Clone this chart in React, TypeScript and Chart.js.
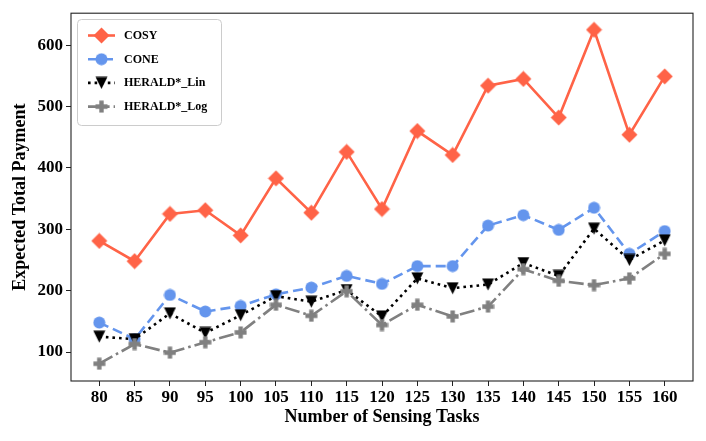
import React, { useEffect, useRef } from "react";
import { Chart, registerables } from "chart.js";

Chart.register(...registerables);

const tasks = [80, 85, 90, 95, 100, 105, 110, 115, 120, 125, 130, 135, 140, 145, 150, 155, 160];
const cosy = [281, 248, 325, 331, 290, 383, 327, 426, 333, 460, 421, 534, 545, 482, 625, 454, 549];
const cone = [148, 121, 193, 166, 175, 194, 205, 224, 211, 240, 240, 306, 323, 299, 335, 260, 297];
const heraldLin = [125, 121, 163, 131, 160, 191, 182, 201, 158, 220, 204, 210, 245, 224, 301, 250, 282];
const heraldLog = [81, 113, 99, 116, 132, 177, 159, 199, 144, 177, 158, 174, 235, 216, 209, 220, 260];
const seriesNames = ["COSY", "CONE", "HERALD*_Lin", "HERALD*_Log"];
const xTicks = [80, 85, 90, 95, 100, 105, 110, 115, 120, 125, 130, 135, 140, 145, 150, 155, 160];
const yTicks = [100, 200, 300, 400, 500, 600];

const FONT = "'Liberation Serif', 'Times New Roman', serif";
const LW = 2.6;

function makeMarker(shape: string, color: string): HTMLCanvasElement {
  const c = document.createElement("canvas");
  const s = shape === "diamond" ? 17 : 13;
  c.width = s;
  c.height = s;
  const ctx = c.getContext("2d")!;
  ctx.fillStyle = color;
  ctx.beginPath();
  const m = s / 2;
  if (shape === "diamond") {
    ctx.moveTo(m, 0.5);
    ctx.lineTo(s - 0.5, m);
    ctx.lineTo(m, s - 0.5);
    ctx.lineTo(0.5, m);
    ctx.closePath();
  } else if (shape === "circle") {
    ctx.arc(m, m, 6, 0, Math.PI * 2);
  } else if (shape === "triDown") {
    ctx.moveTo(0.5, 0.5);
    ctx.lineTo(s - 0.5, 0.5);
    ctx.lineTo(m, s - 0.5);
    ctx.closePath();
  } else if (shape === "plus") {
    const a = 2.2;
    ctx.moveTo(m - a, 0.5);
    ctx.lineTo(m + a, 0.5);
    ctx.lineTo(m + a, m - a);
    ctx.lineTo(s - 0.5, m - a);
    ctx.lineTo(s - 0.5, m + a);
    ctx.lineTo(m + a, m + a);
    ctx.lineTo(m + a, s - 0.5);
    ctx.lineTo(m - a, s - 0.5);
    ctx.lineTo(m - a, m + a);
    ctx.lineTo(0.5, m + a);
    ctx.lineTo(0.5, m - a);
    ctx.lineTo(m - a, m - a);
    ctx.closePath();
  }
  ctx.fill();
  return c;
}

export default function App() {
  const ref = useRef<HTMLCanvasElement>(null);

  useEffect(() => {
    const styles = [
      { color: "#FF6347", dash: [] as number[], marker: makeMarker("diamond", "#FF6347") },
      { color: "#6495ED", dash: [10, 5], marker: makeMarker("circle", "#6495ED") },
      { color: "#000000", dash: [2.6, 4], marker: makeMarker("triDown", "#000000") },
      { color: "#808080", dash: [15, 4, 2.6, 4], marker: makeMarker("plus", "#808080") },
    ];
    const values = [cosy, cone, heraldLin, heraldLog];

    const framePlugin = {
      id: "frame",
      afterDatasetsDraw(chart: any) {
        const { ctx, chartArea } = chart;
        ctx.save();
        ctx.strokeStyle = "#222";
        ctx.lineWidth = 1.1;
        ctx.strokeRect(chartArea.left, chartArea.top, chartArea.right - chartArea.left, chartArea.bottom - chartArea.top);
        ctx.restore();
      },
    };

    const legendPlugin = {
      id: "mplLegend",
      afterDraw(chart: any) {
        const ctx = chart.ctx as CanvasRenderingContext2D;
        ctx.save();
        const x0 = 77.5, y0 = 19.5, w = 144, h = 106, r = 4;
        ctx.beginPath();
        ctx.moveTo(x0 + r, y0);
        ctx.lineTo(x0 + w - r, y0);
        ctx.arcTo(x0 + w, y0, x0 + w, y0 + r, r);
        ctx.lineTo(x0 + w, y0 + h - r);
        ctx.arcTo(x0 + w, y0 + h, x0 + w - r, y0 + h, r);
        ctx.lineTo(x0 + r, y0 + h);
        ctx.arcTo(x0, y0 + h, x0, y0 + h - r, r);
        ctx.lineTo(x0, y0 + r);
        ctx.arcTo(x0, y0, x0 + r, y0, r);
        ctx.closePath();
        ctx.fillStyle = "rgba(255,255,255,0.85)";
        ctx.fill();
        ctx.strokeStyle = "#cccccc";
        ctx.lineWidth = 1;
        ctx.stroke();
        styles.forEach((st, i) => {
          const y = 35.5 + i * 23.7;
          ctx.beginPath();
          ctx.setLineDash(st.dash);
          ctx.strokeStyle = st.color;
          ctx.lineWidth = LW;
          ctx.moveTo(88, y);
          ctx.lineTo(115, y);
          ctx.stroke();
          ctx.setLineDash([]);
          const mk = st.marker;
          ctx.drawImage(mk, 101.5 - mk.width / 2, y - mk.height / 2);
          ctx.fillStyle = "#000";
          ctx.font = `bold 12px ${FONT}`;
          ctx.textBaseline = "middle";
          ctx.textAlign = "left";
          ctx.fillText(seriesNames[i], 124, y + 0.5);
        });
        ctx.restore();
      },
    };

    const datasets = values.map((vals, i) => ({
      label: seriesNames[i],
      data: tasks.map((t, j) => ({ x: t, y: vals[j] })),
      borderColor: styles[i].color,
      backgroundColor: styles[i].color,
      borderWidth: LW,
      borderDash: styles[i].dash,
      pointStyle: styles[i].marker,
      pointRadius: 6,
      pointHoverRadius: 6,
      tension: 0,
      fill: false,
      order: 3 - i,
    }));

    const tickFont = { family: FONT, size: 17, weight: "bold" as const };
    const titleFont = { family: FONT, size: 18, weight: "bold" as const };

    const chart = new Chart(ref.current!, {
      type: "line",
      data: { datasets },
      plugins: [framePlugin, legendPlugin],
      options: {
        responsive: false,
        animation: false,
        layout: { padding: { left: 0, top: 13, right: 13, bottom: 0 } },
        plugins: { legend: { display: false }, tooltip: { enabled: false } },
        scales: {
          x: {
            type: "linear",
            min: 76,
            max: 164,
            afterBuildTicks: (scale: any) => {
              scale.ticks = xTicks.map((v) => ({ value: v }));
            },
            afterFit: (scale: any) => {
              scale.height = 60;
            },
            grid: { drawOnChartArea: false, drawTicks: true, tickLength: 5, tickColor: "#222", tickWidth: 1 },
            border: { display: false },
            ticks: { font: tickFont, color: "#000", padding: 1, maxRotation: 0, autoSkip: false },
            title: { display: true, text: "Number of Sensing Tasks", font: titleFont, color: "#000", padding: { top: 0, bottom: 13 } },
          },
          y: {
            type: "linear",
            min: 52.8,
            max: 652,
            afterBuildTicks: (scale: any) => {
              scale.ticks = yTicks.map((v) => ({ value: v }));
            },
            afterFit: (scale: any) => {
              scale.width = 71;
            },
            grid: { drawOnChartArea: false, drawTicks: true, tickLength: 5, tickColor: "#222", tickWidth: 1 },
            border: { display: false },
            ticks: { font: tickFont, color: "#000", padding: 3 },
            title: { display: true, text: "Expected Total Payment", font: titleFont, color: "#000", padding: { top: 10, bottom: 0 } },
          },
        },
      },
    } as any);
    return () => chart.destroy();
  }, []);

  return (
    <div style={{ position: "absolute", left: 0, top: 0, width: 706, height: 441, background: "#fff" }}>
      <canvas ref={ref} width={706} height={441} style={{ width: 706, height: 441, display: "block" }} />
    </div>
  );
}
